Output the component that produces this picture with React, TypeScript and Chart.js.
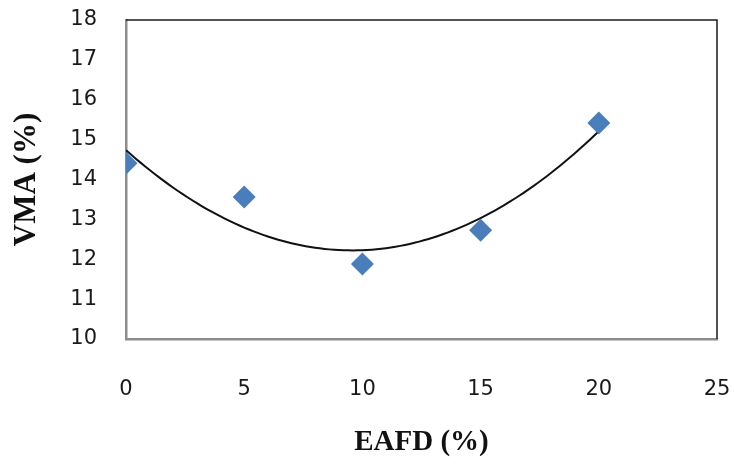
import React, { useEffect, useRef } from "react";
import { Chart, registerables } from "chart.js";

Chart.register(...registerables);

const eafd = [0, 5, 10, 15, 20];
const vma = [14.41, 13.56, 11.88, 12.73, 15.42];
const xTicks = [0, 5, 10, 15, 20, 25];
const yTicks = [10, 11, 12, 13, 14, 15, 16, 17, 18];

// Least-squares quadratic trend line (Excel "Polynomial, order 2")
function quadFit(xs: number[], ys: number[]) {
  const n = xs.length;
  let s0 = n, s1 = 0, s2 = 0, s3 = 0, s4 = 0, t0 = 0, t1 = 0, t2 = 0;
  for (let i = 0; i < n; i++) {
    const x = xs[i], y = ys[i];
    s1 += x; s2 += x * x; s3 += x * x * x; s4 += x * x * x * x;
    t0 += y; t1 += x * y; t2 += x * x * y;
  }
  const M = [
    [s0, s1, s2, t0],
    [s1, s2, s3, t1],
    [s2, s3, s4, t2],
  ];
  for (let c = 0; c < 3; c++) {
    for (let r = c + 1; r < 3; r++) {
      const f = M[r][c] / M[c][c];
      for (let k = c; k < 4; k++) M[r][k] -= f * M[c][k];
    }
  }
  const coef = [0, 0, 0];
  for (let r = 2; r >= 0; r--) {
    let s = M[r][3];
    for (let k = r + 1; k < 3; k++) s -= M[r][k] * coef[k];
    coef[r] = s / M[r][r];
  }
  return (x: number) => coef[0] + coef[1] * x + coef[2] * x * x;
}

const framePlugin = {
  id: "frame",
  afterDatasetsDraw(chart: any) {
    const { ctx, chartArea } = chart;
    ctx.save();
    ctx.strokeStyle = "#1a1a1a";
    ctx.lineWidth = 1.5;
    ctx.beginPath();
    ctx.moveTo(chartArea.left, chartArea.top);
    ctx.lineTo(chartArea.right, chartArea.top);
    ctx.lineTo(chartArea.right, chartArea.bottom);
    ctx.stroke();
    ctx.restore();
  },
};

export default function App() {
  const ref = useRef<HTMLCanvasElement>(null);
  useEffect(() => {
    if (!ref.current) return;
    const fit = quadFit(eafd, vma);
    const xmin = eafd[0];
    const xmax = eafd[eafd.length - 1];
    const trend: { x: number; y: number }[] = [];
    const steps = 100;
    for (let i = 0; i <= steps; i++) {
      const x = xmin + ((xmax - xmin) * i) / steps;
      trend.push({ x, y: fit(x) });
    }
    const tickFont = { family: "DejaVu Sans", size: 21 };
    const chart = new Chart(ref.current, {
      type: "scatter",
      data: {
        datasets: [
          {
            label: "VMA",
            data: eafd.map((x, i) => ({ x, y: vma[i] })),
            pointStyle: "rectRot",
            pointRadius: 11.5,
            pointBackgroundColor: "#4A7EBB",
            pointBorderColor: "#4A7EBB",
            pointBorderWidth: 0,
            order: 1,
          },
          {
            label: "Trend",
            data: trend,
            showLine: true,
            borderColor: "#111111",
            borderWidth: 2,
            pointRadius: 0,
            fill: false,
            order: 2,
          } as any,
        ],
      },
      options: {
        animation: false,
        responsive: false,
        events: [],
        layout: { padding: { top: 20, right: 17, left: 8, bottom: 4 } },
        plugins: {
          legend: { display: false },
          tooltip: { enabled: false },
        },
        scales: {
          x: {
            type: "linear",
            min: 0,
            max: 25,
            afterBuildTicks: (s: any) => {
              s.ticks = xTicks.map((v) => ({ value: v }));
            },
            afterFit: (s: any) => {
              s.height = 464 - 339 - 4;
              s.paddingLeft = 0;
              s.paddingRight = 0;
            },
            grid: { display: false, drawTicks: false },
            border: { display: true, color: "#8c8c8c", width: 2.5 },
            ticks: {
              padding: 38,
              color: "#1a1a1a",
              font: tickFont,
              maxRotation: 0,
              autoSkip: false,
            },
            title: {
              display: true,
              text: "EAFD (%)",
              color: "#111111",
              font: { family: "Liberation Serif", size: 29, weight: "bold" },
              padding: { top: 12, bottom: 0 },
            },
          },
          y: {
            type: "linear",
            min: 10,
            max: 18,
            afterBuildTicks: (s: any) => {
              s.ticks = yTicks.map((v) => ({ value: v }));
            },
            afterFit: (s: any) => {
              s.width = 126 - 8;
              s.paddingTop = 0;
              s.paddingBottom = 0;
            },
            grid: { display: false, drawTicks: false },
            border: { display: true, color: "#8c8c8c", width: 2.5 },
            ticks: {
              padding: 29,
              color: "#1a1a1a",
              font: tickFont,
              autoSkip: false,
            },
            title: {
              display: true,
              text: "VMA (%)",
              color: "#111111",
              font: { family: "Liberation Serif", size: 31, weight: "bold" },
              padding: { top: 0, bottom: 0 },
            },
          },
        },
      },
      plugins: [framePlugin],
    });
    return () => chart.destroy();
  }, []);
  return (
    <div style={{ position: "fixed", left: 0, top: 0, width: 734, height: 464, background: "#fff" }}>
      <canvas ref={ref} width={734} height={464} style={{ display: "block" }} />
    </div>
  );
}
